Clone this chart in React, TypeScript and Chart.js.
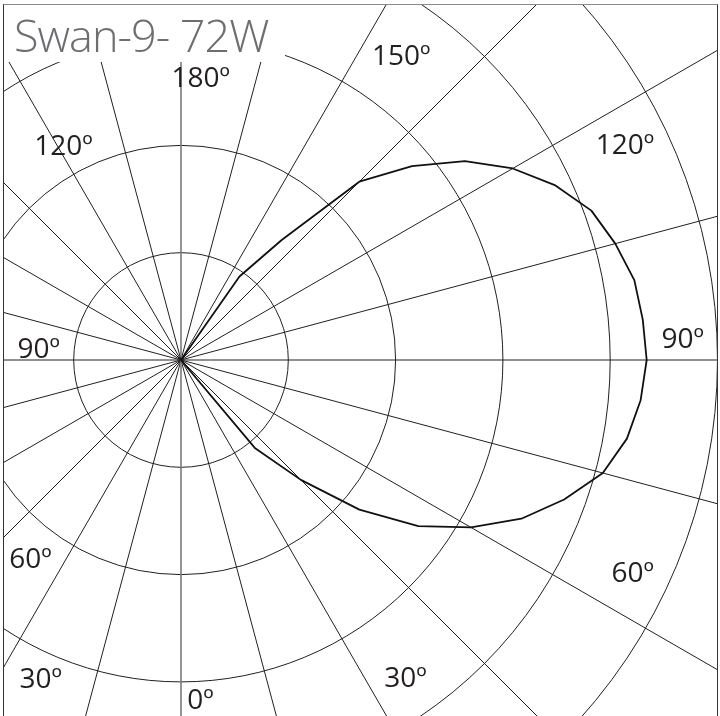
import React, { useEffect, useRef } from "react";
import { Chart, registerables } from "chart.js";

Chart.register(...registerables);

// ---- data -------------------------------------------------------------
// gamma angle (deg from nadir) for each half-plane sample
const gammaDeg = [
  0, 5, 10, 15, 20, 25, 30, 35, 40, 45, 50, 55, 60, 65, 70, 75, 80, 85, 90,
  95, 100, 105, 110, 115, 120, 125, 130, 135, 140, 145, 150, 155, 160, 165, 170, 175, 180,
];
// intensity in the right half-plane (C0)
const intensityC0 = [
  0, 0, 0, 0, 0, 0, 0, 0, 107, 158, 217, 270, 312, 350, 380, 407, 422, 430, 434,
  432, 429, 419, 407, 385, 357, 323, 281, 235, 146, 95, 0, 0, 0, 0, 0, 0, 0,
];
// intensity in the left half-plane (C180)
const intensityC180 = [
  0, 0, 0, 0, 0, 0, 0, 0, 0, 0, 0, 0, 0, 0, 0, 0, 0, 0, 0,
  0, 0, 0, 0, 0, 0, 0, 0, 0, 0, 0, 0, 0, 0, 0, 0, 0, 0,
];
const ringStep = 100;
const ringCount = 5;

const titleText = "Swan-9- 72W";
const angleLabelText = ["180º", "150º", "120º", "90º", "60º", "30º", "0º", "30º", "60º", "90º", "120º"];

// ---- layout (not data) -----------------------------------------------
const CX = 181; // page x of polar centre
const CY = 360; // page y of polar centre
const S = 1400; // canvas size
const RING_PX = 107.3;
const canvasLeft = CX - S / 2;
const canvasTop = CY - S / 2;
const FRAME = { x: 3, y: 4, w: 715, h: 730 };
// label placement: angle (deg from nadir, + toward right) and distance (scale units)
const labelAngle = [176.0, 144.2, 115.9, 92.5, 64.9, 35.3, 3.3, -23.8, -37.2, -95.0, -151.3];
const labelDist = [264, 351, 460, 468, 465, 362, 316, 324, 232, 133, 228];

const STEP_DEG = 5;

function buildRadarValues(): number[] {
  const n = 360 / STEP_DEG;
  const out: number[] = [];
  for (let i = 0; i < n; i++) {
    const cw = i * STEP_DEG; // clockwise from nadir -> toward the left
    if (cw === 0 || cw === 180) out.push(intensityC0[gammaDeg.indexOf(cw)]);
    else if (cw < 180) out.push(intensityC180[gammaDeg.indexOf(cw)]);
    else out.push(intensityC0[gammaDeg.indexOf(360 - cw)]);
  }
  return out;
}

export default function App() {
  const ref = useRef<HTMLCanvasElement | null>(null);

  useEffect(() => {
    if (!ref.current) return;
    const n = 360 / STEP_DEG;
    const labels = Array.from({ length: n }, (_, i) => String(i * STEP_DEG));
    const values = buildRadarValues();
    const maxVal = (S / 2 / RING_PX) * ringStep;

    const overlay = {
      id: "overlay",
      afterDraw(chart: any) {
        const ctx = chart.ctx as CanvasRenderingContext2D;
        const s = chart.scales.r;
        ctx.save();
        // white box behind the title
        ctx.fillStyle = "#ffffff";
        ctx.fillRect(3 - canvasLeft, 4 - canvasTop, 282, 58);
        // title
        ctx.fillStyle = "#6d6e71";
        ctx.font = '300 45px "Open Sans"';
        (ctx as any).letterSpacing = "-1px";
        ctx.textAlign = "left";
        ctx.textBaseline = "alphabetic";
        ctx.fillText(titleText, 14 - canvasLeft, 52 - canvasTop);
        (ctx as any).letterSpacing = "0px";
        // angle labels
        ctx.fillStyle = "#231f20";
        const fs = 28;
        ctx.font = `${fs}px "Open Sans"`;
        ctx.textAlign = "center";
        angleLabelText.forEach((t, i) => {
          const a = (labelAngle[i] * Math.PI) / 180;
          const d = s.getDistanceFromCenterForValue(labelDist[i]);
          const x = s.xCenter + d * Math.sin(a);
          const y = s.yCenter + d * Math.cos(a);
          ctx.fillText(t, x, y + fs * 0.357);
        });
        ctx.restore();
      },
    };

    const chart = new Chart(ref.current, {
      type: "radar",
      data: {
        labels,
        datasets: [
          {
            data: values,
            borderColor: "#111111",
            borderWidth: 1.8,
            pointRadius: 0,
            fill: false,
            tension: 0,
            borderJoinStyle: "round",
          },
        ],
      },
      options: {
        responsive: false,
        animation: false,
        devicePixelRatio: 1,
        events: [],
        layout: { padding: 0 },
        plugins: { legend: { display: false }, tooltip: { enabled: false } },
        scales: {
          r: {
            min: 0,
            max: maxVal,
            startAngle: 180,
            ticks: { display: false, stepSize: ringStep },
            pointLabels: { display: false },
            grid: {
              circular: true,
              color: (c: any) =>
                c.tick && c.tick.value > 0 && c.tick.value <= ringStep * ringCount + 0.01
                  ? "#231f20"
                  : "rgba(0,0,0,0)",
              lineWidth: 1,
            },
            angleLines: {
              display: true,
              color: (c: any) =>
                c.index % 36 === 0 ? "#7a7a7a" : c.index % 3 === 0 ? "#231f20" : "rgba(0,0,0,0)",
              lineWidth: (c: any) => (c.index % 36 === 0 ? 1.6 : c.index % 3 === 0 ? 1 : 0),
            },
          },
        },
      },
      plugins: [overlay],
    } as any);

    return () => chart.destroy();
  }, []);

  return (
    <div
      style={{
        position: "absolute",
        left: 0,
        top: 0,
        width: 720,
        height: 716,
        overflow: "hidden",
        background: "#fff",
      }}
    >
      <div
        style={{
          position: "absolute",
          left: FRAME.x,
          top: FRAME.y,
          width: FRAME.w,
          height: FRAME.h,
          boxSizing: "border-box",
          borderTop: "1px solid #8a8a8a",
          borderLeft: "1px solid #333",
          borderRight: "1px solid #333",
          overflow: "hidden",
        }}
      >
        <canvas
          ref={ref}
          width={S}
          height={S}
          style={{
            position: "absolute",
            left: canvasLeft - FRAME.x - 1,
            top: canvasTop - FRAME.y - 1,
            width: S,
            height: S,
          }}
        />
      </div>
    </div>
  );
}
